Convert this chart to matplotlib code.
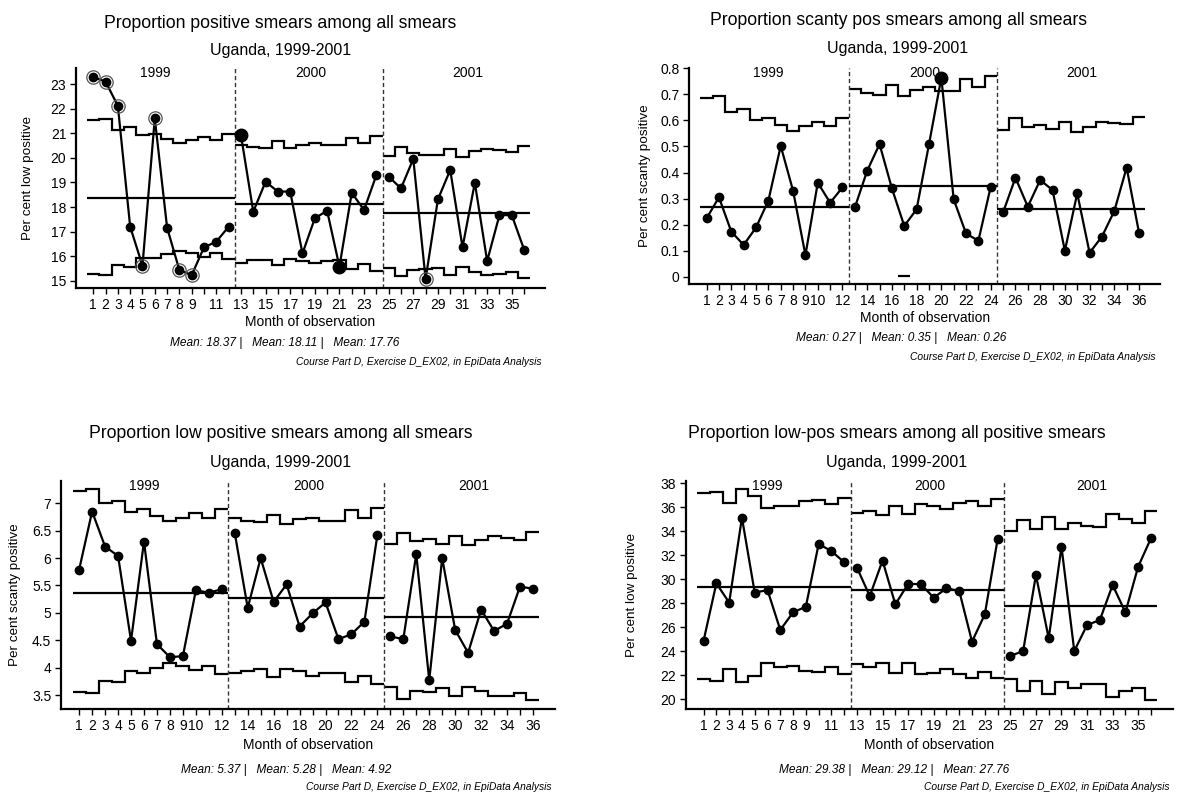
import matplotlib
matplotlib.use("Agg")
import matplotlib.pyplot as plt
import matplotlib.transforms as mtransforms
import numpy as np

plt.rcParams['font.family'] = ['Liberation Sans', 'DejaVu Sans']

# ---------------- data ----------------
months = np.arange(1, 37)
years = ["1999", "2000", "2001"]

# Panel 1: proportion positive smears among all smears
p1_values = [23.29, 23.11, 22.12, 17.20, 15.61, 21.61, 17.16, 15.43, 15.23, 16.36, 16.59, 17.20,
             20.93, 17.81, 19.03, 18.63, 18.63, 16.11, 17.54, 17.85, 15.57, 18.58, 17.88, 19.30,
             19.24, 18.76, 19.96, 15.07, 18.31, 19.51, 16.36, 18.99, 15.80, 17.67, 17.67, 16.27]
p1_ucl = [21.55, 21.60, 21.14, 21.25, 20.92, 20.98, 20.77, 20.60, 20.73, 20.87, 20.73, 20.98,
          20.53, 20.46, 20.39, 20.69, 20.39, 20.53, 20.60, 20.53, 20.53, 20.83, 20.60, 20.91,
          20.09, 20.46, 20.19, 20.12, 20.12, 20.36, 20.05, 20.30, 20.36, 20.32, 20.23, 20.50]
p1_lcl = [15.26, 15.23, 15.64, 15.57, 15.91, 15.91, 16.08, 16.21, 16.11, 15.98, 16.11, 15.87,
          15.74, 15.84, 15.84, 15.64, 15.88, 15.80, 15.73, 15.80, 15.84, 15.46, 15.68, 15.41,
          15.50, 15.19, 15.43, 15.47, 15.50, 15.23, 15.57, 15.36, 15.23, 15.26, 15.36, 15.09]
p1_means = [18.37, 18.11, 17.76]
p1_circled = [1, 2, 3, 5, 6, 8, 9, 28]
p1_big = [13, 21]

# Panel 2: proportion scanty pos smears among all smears
p2_values = [0.224, 0.305, 0.173, 0.122, 0.189, 0.292, 0.502, 0.330, 0.083, 0.361, 0.284, 0.343,
             0.266, 0.407, 0.509, 0.339, 0.195, 0.259, 0.508, 0.764, 0.297, 0.166, 0.138, 0.346,
             0.247, 0.380, 0.269, 0.371, 0.333, 0.100, 0.320, 0.092, 0.154, 0.252, 0.419, 0.169]
p2_ucl = [0.685, 0.695, 0.634, 0.644, 0.600, 0.609, 0.582, 0.561, 0.579, 0.595, 0.579, 0.608,
          0.721, 0.704, 0.699, 0.736, 0.694, 0.717, 0.727, 0.713, 0.713, 0.758, 0.727, 0.772,
          0.563, 0.611, 0.576, 0.582, 0.567, 0.595, 0.557, 0.576, 0.595, 0.591, 0.585, 0.614]
p2_lcl = [np.nan] * 16 + [0.003] + [np.nan] * 19
p2_means = [0.266, 0.348, 0.260]
p2_circled = []
p2_big = [20]

# Panel 3: proportion low positive smears among all smears
p3_values = [5.79, 6.85, 6.21, 6.04, 4.49, 6.30, 4.43, 4.19, 4.21, 5.41, 5.37, 5.43,
             6.46, 5.09, 6.00, 5.20, 5.52, 4.75, 4.99, 5.19, 4.52, 4.61, 4.84, 6.42,
             4.57, 4.52, 6.07, 3.77, 6.00, 4.69, 4.27, 5.06, 4.67, 4.80, 5.48, 5.44]
p3_ucl = [7.23, 7.26, 7.00, 7.04, 6.85, 6.89, 6.77, 6.68, 6.74, 6.82, 6.74, 6.89,
          6.73, 6.67, 6.65, 6.79, 6.62, 6.71, 6.74, 6.68, 6.68, 6.87, 6.74, 6.91,
          6.26, 6.45, 6.32, 6.34, 6.26, 6.41, 6.23, 6.33, 6.40, 6.37, 6.33, 6.47]
p3_lcl = [3.56, 3.54, 3.76, 3.74, 3.93, 3.90, 4.00, 4.09, 4.03, 3.96, 4.03, 3.88,
          3.90, 3.94, 3.97, 3.82, 3.97, 3.93, 3.85, 3.91, 3.91, 3.74, 3.85, 3.71,
          3.65, 3.42, 3.58, 3.56, 3.62, 3.49, 3.64, 3.57, 3.49, 3.49, 3.54, 3.41]
p3_means = [5.37, 5.28, 4.92]
p3_circled = []
p3_big = []

# Panel 4: proportion low-pos smears among all positive smears
p4_values = [24.89, 29.67, 28.06, 35.14, 28.89, 29.11, 25.78, 27.25, 27.72, 32.94, 32.36, 31.42,
             30.97, 28.61, 31.56, 27.92, 29.61, 29.61, 28.47, 29.25, 29.03, 24.81, 27.08, 33.33,
             23.61, 24.03, 30.36, 25.08, 32.72, 24.03, 26.19, 26.61, 29.53, 27.25, 31.06, 33.42]
p4_ucl = [37.17, 37.31, 36.33, 37.50, 36.94, 35.92, 36.14, 36.14, 36.53, 36.61, 36.25, 36.75,
          35.50, 35.72, 35.36, 36.14, 35.44, 36.28, 36.14, 35.83, 36.39, 36.53, 36.14, 36.67,
          34.03, 34.94, 34.17, 35.22, 34.19, 34.67, 34.47, 34.39, 35.44, 35.00, 34.72, 35.72]
p4_lcl = [21.67, 21.56, 22.50, 21.42, 21.97, 23.00, 22.67, 22.78, 22.36, 22.25, 22.67, 22.08,
          22.92, 22.67, 23.00, 22.17, 23.00, 22.08, 22.17, 22.53, 22.08, 21.75, 22.31, 21.75,
          21.67, 20.69, 21.53, 20.42, 21.42, 20.97, 21.25, 21.25, 20.22, 20.69, 20.92, 19.94]
p4_means = [29.38, 29.12, 27.76]
p4_circled = []
p4_big = []

titles = ["Proportion positive smears among all smears",
          "Proportion scanty pos smears among all smears",
          "Proportion low positive smears among all smears",
          "Proportion low-pos smears among all positive smears"]
subtitle = "Uganda, 1999-2001"
ylabels = ["Per cent low positive", "Per cent scanty positive",
           "Per cent scanty positive", "Per cent low positive"]
xlabel = "Month of observation"
credit = "Course Part D, Exercise D_EX02, in EpiData Analysis"

p1_yticks = [15, 16, 17, 18, 19, 20, 21, 22, 23]
p1_ytlabels = ["15", "16", "17", "18", "19", "20", "21", "22", "23"]
p2_yticks = [0, 0.1, 0.2, 0.3, 0.4, 0.5, 0.6, 0.7, 0.8]
p2_ytlabels = ["0", "0.1", "0.2", "0.3", "0.4", "0.5", "0.6", "0.7", "0.8"]
p3_yticks = [3.5, 4, 4.5, 5, 5.5, 6, 6.5, 7]
p3_ytlabels = ["3.5", "4", "4.5", "5", "5.5", "6", "6.5", "7"]
p4_yticks = [20, 22, 24, 26, 28, 30, 32, 34, 36, 38]
p4_ytlabels = ["20", "22", "24", "26", "28", "30", "32", "34", "36", "38"]

xlab_odd = [1, 2, 3, 4, 5, 6, 7, 8, 9] + list(range(11, 37, 2))
xlab_even = [1, 2, 3, 4, 5, 6, 7, 8, 9, 10] + list(range(12, 37, 2))

# ---------------- layout ----------------
W, H = 1177, 809
fig = plt.figure(figsize=(W / 100, H / 100), dpi=100)


def fx(px):
    return px / W


def fy(py):
    return 1 - py / H


panels = [
    dict(vals=p1_values, ucl=p1_ucl, lcl=p1_lcl, means=p1_means, circ=p1_circled, big=p1_big,
         yt=p1_yticks, ytl=p1_ytlabels, ylim=(14.69, 23.65), xl=xlab_odd,
         rect=(76, 68.3, 545, 288.3), title_c=280.5, title_y=23.5, sub_y=51,
         ylab_x=28, mean_c=285, mean_y=343, cred_r=542, cred_y=362, xlab_y=321.5),
    dict(vals=p2_values, ucl=p2_ucl, lcl=p2_lcl, means=p2_means, circ=p2_circled, big=p2_big,
         yt=p2_yticks, ytl=p2_ytlabels, ylim=(-0.029, 0.8023), xl=xlab_even,
         rect=(689.3, 67.7, 1160, 284.3), title_c=898, title_y=20.5, sub_y=49,
         ylab_x=645, mean_c=901, mean_y=338.5, cred_r=1155, cred_y=357, xlab_y=318),
    dict(vals=p3_values, ucl=p3_ucl, lcl=p3_lcl, means=p3_means, circ=p3_circled, big=p3_big,
         yt=p3_yticks, ytl=p3_ytlabels, ylim=(3.239, 7.413), xl=xlab_even,
         rect=(61, 480.7, 555, 709.3), title_c=281, title_y=433, sub_y=463,
         ylab_x=15, mean_c=286, mean_y=770, cred_r=551, cred_y=787, xlab_y=745),
    dict(vals=p4_values, ucl=p4_ucl, lcl=p4_lcl, means=p4_means, circ=p4_circled, big=p4_big,
         yt=p4_yticks, ytl=p4_ytlabels, ylim=(19.17, 38.22), xl=xlab_odd,
         rect=(685.7, 480.7, 1172.7, 709.3), title_c=896.5, title_y=433, sub_y=463,
         ylab_x=632, mean_c=894, mean_y=770, cred_r=1170, cred_y=787, xlab_y=745),
]

LW = 1.6
year_x = [6.0, 18.7, 31.4]


def draw_stairs(ax, vals, edges):
    vals = np.asarray(vals, dtype=float)
    run = []
    for i, v in enumerate(vals):
        if np.isnan(v):
            if run:
                ax.stairs(vals[run[0]:run[-1] + 1], edges[run[0]:run[-1] + 2],
                          baseline=None, color='black', lw=LW)
                run = []
        else:
            run.append(i)
    if run:
        ax.stairs(vals[run[0]:run[-1] + 1], edges[run[0]:run[-1] + 2],
                  baseline=None, color='black', lw=LW)


for i, p in enumerate(panels):
    l, t, r, b = p['rect']
    ax = fig.add_axes([fx(l), fy(b), (r - l) / W, (b - t) / H])
    vals = np.asarray(p['vals'], dtype=float)
    for k in range(3):
        sl = slice(12 * k, 12 * k + 12)
        ax.plot(months[sl], vals[sl], color='black', lw=LW, marker='o', ms=6.0,
                mfc='black', mec='black', zorder=4)
        ax.hlines(p['means'][k], 12 * k + 0.5, 12 * k + 12.5, color='black', lw=LW, zorder=3)
        edges = np.arange(12 * k + 0.5, 12 * k + 13.5)
        draw_stairs(ax, p['ucl'][12 * k:12 * k + 12], edges)
        draw_stairs(ax, p['lcl'][12 * k:12 * k + 12], edges)
    for m in p['circ']:
        ax.plot([m], [vals[m - 1]], marker='o', ms=9.6, mfc='none', mec='#555555', mew=0.9,
                zorder=5, clip_on=False)
    for m in p['big']:
        ax.plot([m], [vals[m - 1]], marker='o', ms=9.0, mfc='black', mec='black', zorder=6,
                clip_on=False)
    for xv in (12.5, 24.5):
        ax.axvline(xv, color='#333333', lw=1.0, ls=(0, (3, 2)), zorder=2)

    ax.set_xlim(-0.4, 37.7)
    ax.set_ylim(*p['ylim'])
    ax.set_yticks(p['yt'])
    ax.set_yticklabels(p['ytl'])
    ax.set_xticks(months)
    ax.set_xticklabels([str(m) if m in p['xl'] else "" for m in months])
    ax.tick_params(axis='both', direction='out', length=4, width=1, labelsize=10, pad=3)
    for s in ('top', 'right'):
        ax.spines[s].set_visible(False)
    for s in ('left', 'bottom'):
        ax.spines[s].set_linewidth(LW)

    trans = mtransforms.blended_transform_factory(ax.transData, ax.transAxes)
    hpx = b - t
    for k in range(3):
        ax.text(year_x[k], 1 - 5 / hpx, years[k], transform=trans, ha='center', va='center',
                fontsize=10)

    fig.text(fx(p['title_c']), fy(p['title_y']), titles[i], ha='center', va='center',
             fontsize=12.7)
    fig.text(fx(p['title_c']), fy(p['sub_y']), subtitle, ha='center', va='center',
             fontsize=11.5)
    fig.text(fx((l + r) / 2), fy(p['xlab_y']), xlabel, ha='center', va='center', fontsize=10)
    fig.text(fx(p['ylab_x']), fy((t + b) / 2), ylabels[i], ha='center', va='center',
             rotation=90, fontsize=9.7)
    fmt = "{:.2f}"
    mean_txt = "Mean: " + fmt.format(p['means'][0]) + " |   Mean: " + fmt.format(p['means'][1]) \
               + " |   Mean: " + fmt.format(p['means'][2])
    fig.text(fx(p['mean_c']), fy(p['mean_y']), mean_txt, ha='center', va='center',
             fontsize=8.6, style='italic')
    fig.text(fx(p['cred_r']), fy(p['cred_y']), credit, ha='right', va='center',
             fontsize=7.4, style='italic')

fig.savefig("out.png", dpi=100, facecolor='white')
